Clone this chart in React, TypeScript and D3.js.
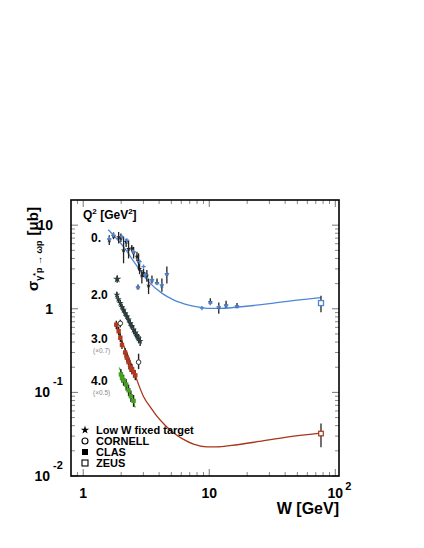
import React from "react";
import * as d3 from "d3";

// ---- data (W [GeV], sigma [ub], low, high) ----
const q0Black: number[][] = [
  [1.61, 6.6, 5.8, 7.6], [1.74, 7.4, 6.8, 8.2], [1.91, 7.2, 6.05, 8.3], [1.99, 7.0, 6.3, 7.96],
  [2.09, 5.0, 3.5, 7.26], [2.19, 6.3, 5.5, 6.9], [2.29, 5.2, 4.0, 6.6], [2.43, 5.3, 4.8, 5.8],
  [2.51, 4.7, 4.0, 5.5], [2.67, 4.2, 3.7, 4.8], [2.75, 3.7, 2.9, 4.6], [2.8, 3.0, 2.6, 3.5],
  [2.92, 2.5, 2.0, 2.9], [3.01, 2.7, 2.4, 3.0], [3.2, 2.5, 2.1, 2.9], [3.3, 1.9, 1.5, 2.3],
  [3.51, 2.2, 2.0, 2.5], [3.85, 2.05, 1.95, 2.3], [4.21, 1.9, 1.6, 2.3], [4.61, 2.6, 2.0, 3.2],
  [2.72, 1.8, 1.7, 1.95],
  [10.2, 1.2, 1.12, 1.34], [11.9, 1.05, 0.87, 1.19], [13.6, 1.1, 1.02, 1.25], [16.6, 1.07, 1.02, 1.17],
];
const q0Blue: number[][] = [
  [1.61, 6.9], [1.74, 7.6], [2.03, 7.26], [2.22, 6.6], [2.51, 4.8], [2.8, 3.66], [3.01, 3.19],
  [3.11, 2.54], [2.72, 1.8], [3.51, 2.21], [3.85, 2.02], [4.21, 1.93], [4.61, 2.6],
  [8.75, 1.02], [10.2, 1.17], [11.9, 1.05], [13.6, 1.09], [16.6, 1.065],
];
const q2Points: number[][] = [
  [1.86, 2.27, 2.05, 2.5], [1.85, 1.47, 1.35, 1.6], [1.9, 1.3, 1.18, 1.42], [1.97, 1.17, 1.06, 1.28],
  [2.03, 1.05, 0.95, 1.15], [2.09, 0.97, 0.88, 1.07], [2.15, 0.88, 0.8, 0.97], [2.22, 0.81, 0.73, 0.9],
  [2.29, 0.74, 0.67, 0.82], [2.36, 0.67, 0.6, 0.74], [2.43, 0.62, 0.56, 0.69], [2.51, 0.56, 0.5, 0.63],
  [2.59, 0.52, 0.46, 0.58], [2.67, 0.47, 0.42, 0.53], [2.75, 0.44, 0.39, 0.5], [2.83, 0.41, 0.36, 0.47],
];
const cornellPoints: number[][] = [
  [1.97, 0.67, 0.6, 0.74], [2.75, 0.23, 0.19, 0.29],
];
const q3Points: number[][] = [
  [1.83, 0.645, 0.57, 0.72], [1.91, 0.54, 0.48, 0.61], [1.97, 0.45, 0.4, 0.51], [2.03, 0.37, 0.33, 0.42],
  [2.15, 0.3, 0.26, 0.34], [2.22, 0.26, 0.23, 0.3], [2.29, 0.23, 0.2, 0.26], [2.36, 0.2, 0.175, 0.23],
  [2.43, 0.19, 0.165, 0.22], [2.51, 0.175, 0.15, 0.2], [2.59, 0.16, 0.14, 0.185],
];
const q4Points: number[][] = [
  [1.99, 0.164, 0.14, 0.19], [2.03, 0.15, 0.13, 0.175], [2.09, 0.14, 0.12, 0.163], [2.19, 0.124, 0.105, 0.145],
  [2.29, 0.106, 0.09, 0.124], [2.39, 0.09, 0.077, 0.105], [2.51, 0.079, 0.067, 0.093],
];
const zeusQ0: number[][] = [[77, 1.17, 0.91, 1.43]];
const zeusQ3: number[][] = [[77, 0.0322, 0.022, 0.0424]];

const curveQ0: number[][] = [
  [1.58, 8.8], [2.09, 5.5], [2.58, 3.5], [3.3, 2.11], [4.2, 1.54], [5.2, 1.28], [7, 1.1],
  [8.8, 1.03], [10, 1.01], [12, 1.01], [17, 1.05], [30, 1.15], [50, 1.27], [77, 1.36],
];
const curveQ3: number[][] = [
  [1.83, 0.66], [2.0, 0.43], [2.3, 0.26], [2.6, 0.156], [3.0, 0.09], [3.5, 0.063], [3.84, 0.052],
  [4.5, 0.04], [5.2, 0.033], [6.2, 0.0276], [7.5, 0.024], [9.6, 0.0223], [11.5, 0.0223],
  [15, 0.0232], [25, 0.0259], [40, 0.029], [77, 0.0325],
];
const lineQ4: number[][] = [[1.93, 0.198], [2.59, 0.066]];

const xMajor = [1, 10, 100];
const xMinor = [0.9, 2, 3, 4, 5, 6, 7, 8, 9, 20, 30, 40, 50, 60, 70, 80, 90];
const yMajor = [0.01, 0.1, 1, 10];
const yMinor = [0.02, 0.03, 0.04, 0.05, 0.06, 0.07, 0.08, 0.09, 0.2, 0.3, 0.4, 0.5, 0.6, 0.7, 0.8, 0.9, 2, 3, 4, 5, 6, 7, 8, 9];
const xTickLabels = [{ v: 1, base: "1", exp: "" }, { v: 10, base: "10", exp: "" }, { v: 100, base: "10", exp: "2" }];
const yTickLabels = [{ v: 10, base: "10", exp: "" }, { v: 1, base: "1", exp: "" }, { v: 0.1, base: "10", exp: "-1" }, { v: 0.01, base: "10", exp: "-2" }];
const q2Labels = [
  { text: "0.", sub: "", v: 7.0 },
  { text: "2.0", sub: "", v: 1.45 },
  { text: "3.0", sub: "(×0.7)", v: 0.44 },
  { text: "4.0", sub: "(×0.5)", v: 0.135 },
];
const legendItems = ["Low W fixed target", "CORNELL", "CLAS", "ZEUS"];

const L = 71, R = 339, T = 200, B = 476;
const FONT = "'Liberation Sans', Arial, Helvetica, sans-serif";

export default function App() {
  const x = d3.scaleLog().domain([0.8, 107]).range([L, R]);
  const y = d3.scaleLog().domain([0.01, 20]).range([B, T]);
  const line = d3.line<number[]>().x(d => x(d[0])).y(d => y(d[1])).curve(d3.curveMonotoneX);
  const star = d3.symbol().type(d3.symbolStar).size(8)()!;
  const starQ2 = d3.symbol().type(d3.symbolStar).size(14)()!;
  const starBig = d3.symbol().type(d3.symbolStar).size(22)()!;
  const blueMark = d3.symbol().type(d3.symbolCross).size(10)()!;

  const errBars = (pts: number[][], color: string, key: string, w = 1.4) =>
    pts.map((d, i) => d.length >= 4 ? (
      <line key={key + i} x1={x(d[0])} x2={x(d[0])} y1={y(d[2])} y2={y(d[3])} stroke={color} strokeWidth={w} />
    ) : null);

  return (
    <svg width={424} height={548} style={{ position: "absolute", left: 0, top: 0, background: "#fff" }} fontFamily={FONT}>
      <defs>
        <clipPath id="plot"><rect x={L} y={T} width={R - L} height={B - T} /></clipPath>
      </defs>
      {/* ticks */}
      {xMajor.map(v => (
        <g key={"xM" + v} stroke="#777" strokeWidth={1}>
          <line x1={x(v)} x2={x(v)} y1={B} y2={B - 7} />
          <line x1={x(v)} x2={x(v)} y1={T} y2={T + 7} />
        </g>
      ))}
      {xMinor.map(v => (
        <g key={"xm" + v} stroke="#888" strokeWidth={1}>
          <line x1={x(v)} x2={x(v)} y1={B} y2={B - 4} />
          <line x1={x(v)} x2={x(v)} y1={T} y2={T + 4} />
        </g>
      ))}
      {yMajor.map(v => (
        <g key={"yM" + v} stroke="#777" strokeWidth={1}>
          <line x1={L} x2={L + 7} y1={y(v)} y2={y(v)} />
          <line x1={R} x2={R - 7} y1={y(v)} y2={y(v)} />
        </g>
      ))}
      {yMinor.map(v => (
        <g key={"ym" + v} stroke="#888" strokeWidth={1}>
          <line x1={L} x2={L + 4} y1={y(v)} y2={y(v)} />
          <line x1={R} x2={R - 4} y1={y(v)} y2={y(v)} />
        </g>
      ))}
      {/* frame */}
      <rect x={L} y={T} width={R - L} height={B - T} fill="none" stroke="#000" strokeWidth={1.6} />

      {/* tick labels */}
      {xTickLabels.map(t => (
        <g key={"xl" + t.v}>
          <text x={x(t.v)} y={498} textAnchor="middle" fontSize={14} fontWeight="bold">{t.base}</text>
          {t.exp && <text x={x(t.v) + 10} y={490} fontSize={11} fontWeight="bold">{t.exp}</text>}
        </g>
      ))}
      {yTickLabels.map(t => t.exp ? (
        <g key={"yl" + t.v}>
          <text x={50} y={y(t.v) + 5} textAnchor="end" fontSize={14} fontWeight="bold">{t.base}</text>
          <text x={53} y={y(t.v) - 7} fontSize={11} fontWeight="bold">{t.exp}</text>
        </g>
      ) : (
        <text key={"yl" + t.v} x={53} y={y(t.v) + 5} textAnchor="end" fontSize={14} fontWeight="bold">{t.base}</text>
      ))}

      {/* axis titles */}
      <text x={R} y={514} textAnchor="end" fontSize={16} fontWeight="bold">W [GeV]</text>
      <text transform={`translate(38,291) rotate(-90)`} fontSize={15} fontWeight="bold">
        <tspan>σ</tspan>
        <tspan fontSize={9} dy={4}>γ</tspan>
        <tspan fontSize={7} dy={-4}>*</tspan>
        <tspan fontSize={9} dy={4}>p → ωp</tspan>
        <tspan dy={-4} dx={5}>[μb]</tspan>
      </text>

      {/* Q2 header & labels */}
      <text x={83} y={219} fontSize={12} fontWeight="bold">
        Q<tspan fontSize={8} dy={-5}>2</tspan><tspan dy={5}> [GeV</tspan><tspan fontSize={8} dy={-5}>2</tspan><tspan dy={5}>]</tspan>
      </text>
      {q2Labels.map(l => (
        <g key={l.text}>
          <text x={91} y={y(l.v) + 4} fontSize={12} fontWeight="bold">{l.text}</text>
          {l.sub && <text x={93} y={y(l.v) + 14} fontSize={6.5} fill="#888">{l.sub}</text>}
        </g>
      ))}

      <g clipPath="url(#plot)">
        {/* curves */}
        <path d={line(curveQ0)!} fill="none" stroke="#4f86d6" strokeWidth={1.3} />
        <path d={line(curveQ3)!} fill="none" stroke="#a8341a" strokeWidth={1.3} />
        <path d={line(lineQ4)!} fill="none" stroke="#5cb82b" strokeWidth={1.3} />

        {/* Q2=0 */}
        {errBars(q0Black, "#222", "q0e", 1.3)}
        {q0Black.map((d, i) => (
          <path key={"q0s" + i} d={star} transform={`translate(${x(d[0])},${y(d[1])})`} fill="#222" />
        ))}
        {q0Blue.map((d, i) => (
          <path key={"q0b" + i} d={blueMark} transform={`translate(${x(d[0])},${y(d[1])})`} fill="#4f86d6" />
        ))}
        {/* Q2=2 */}
        {errBars(q2Points, "#1e2a2a", "q2e")}
        {q2Points.map((d, i) => (
          <path key={"q2s" + i} d={i === 0 ? starBig : starQ2} transform={`translate(${x(d[0])},${y(d[1])})`} fill="#2a3c3c" />
        ))}
        {/* Q2=3 */}
        {errBars(q3Points, "#222", "q3e")}
        {q3Points.map((d, i) => (
          <rect key={"q3s" + i} x={x(d[0]) - 2.2} y={y(d[1]) - 2.2} width={4.4} height={4.4} fill="#b5381c" />
        ))}
        {/* Q2=4 */}
        {errBars(q4Points, "#222", "q4e")}
        {q4Points.map((d, i) => (
          <rect key={"q4s" + i} x={x(d[0]) - 2.2} y={y(d[1]) - 2.2} width={4.4} height={4.4} fill="#45a020" />
        ))}
        {/* Cornell */}
        {errBars(cornellPoints, "#222", "ce")}
        {cornellPoints.map((d, i) => (
          <circle key={"c" + i} cx={x(d[0])} cy={y(d[1])} r={2.3} fill="#fff" stroke="#333" strokeWidth={1} />
        ))}
        {/* ZEUS */}
        {errBars(zeusQ0, "#333", "z0e")}
        {errBars(zeusQ3, "#333", "z3e")}
        {zeusQ0.map((d, i) => (
          <rect key={"z0" + i} x={x(d[0]) - 2.5} y={y(d[1]) - 2.5} width={5} height={5} fill="#fff" stroke="#4f86d6" strokeWidth={1.3} />
        ))}
        {zeusQ3.map((d, i) => (
          <rect key={"z3" + i} x={x(d[0]) - 2.3} y={y(d[1]) - 2.3} width={4.6} height={4.6} fill="#fff" stroke="#a8341a" strokeWidth={1.2} />
        ))}
      </g>

      {/* legend */}
      {legendItems.map((t, i) => {
        const ly = 430 + i * 11;
        return (
          <g key={t}>
            {i === 0 && <path d={d3.symbol().type(d3.symbolStar).size(22)()!} transform={`translate(85,${ly})`} fill="#000" />}
            {i === 1 && <circle cx={85} cy={ly} r={3} fill="#fff" stroke="#000" strokeWidth={1.1} />}
            {i === 2 && <rect x={82} y={ly - 3} width={6} height={6} fill="#000" />}
            {i === 3 && <rect x={82} y={ly - 3} width={6} height={6} fill="#fff" stroke="#000" strokeWidth={1.1} />}
            <text x={96} y={ly + 4} fontSize={11} fontWeight="bold">{t}</text>
          </g>
        );
      })}
    </svg>
  );
}
